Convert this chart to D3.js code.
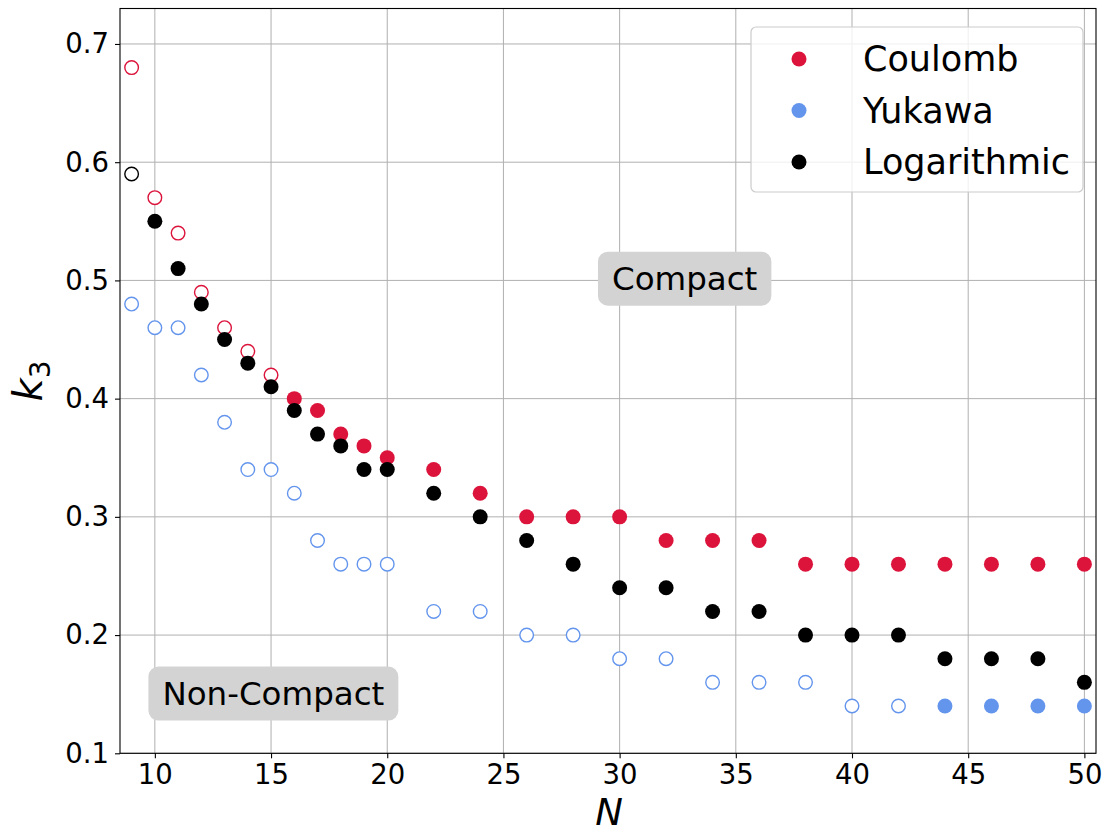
<!DOCTYPE html>
<html>
<head>
<meta charset="utf-8">
<script src="https://cdn.jsdelivr.net/npm/d3@7"></script>
<style>
  html, body { margin: 0; padding: 0; background: #fff; }
  svg { display: block; font-family: "DejaVu Sans", sans-serif; }
</style>
</head>
<body>
<svg id="chart" width="1110" height="833"></svg>
<script>
// Critical packing fraction k3 versus particle number N for three interactions.
// Hollow markers: non-compact states; filled markers: compact states.
const coulombN      = [9, 10, 11, 12, 13, 14, 15, 16, 17, 18, 19, 20, 22, 24, 26, 28, 30, 32, 34, 36, 38, 40, 42, 44, 46, 48, 50];
const coulombK      = [0.68, 0.57, 0.54, 0.49, 0.46, 0.44, 0.42, 0.40, 0.39, 0.37, 0.36, 0.35, 0.34, 0.32, 0.30, 0.30, 0.30, 0.28, 0.28, 0.28, 0.26, 0.26, 0.26, 0.26, 0.26, 0.26, 0.26];
const coulombFilled = [0, 0, 0, 0, 0, 0, 0, 1, 1, 1, 1, 1, 1, 1, 1, 1, 1, 1, 1, 1, 1, 1, 1, 1, 1, 1, 1];

const yukawaN       = [9, 10, 11, 12, 13, 14, 15, 16, 17, 18, 19, 20, 22, 24, 26, 28, 30, 32, 34, 36, 38, 40, 42, 44, 46, 48, 50];
const yukawaK       = [0.48, 0.46, 0.46, 0.42, 0.38, 0.34, 0.34, 0.32, 0.28, 0.26, 0.26, 0.26, 0.22, 0.22, 0.20, 0.20, 0.18, 0.18, 0.16, 0.16, 0.16, 0.14, 0.14, 0.14, 0.14, 0.14, 0.14];
const yukawaFilled  = [0, 0, 0, 0, 0, 0, 0, 0, 0, 0, 0, 0, 0, 0, 0, 0, 0, 0, 0, 0, 0, 0, 0, 1, 1, 1, 1];

const logN          = [9, 10, 11, 12, 13, 14, 15, 16, 17, 18, 19, 20, 22, 24, 26, 28, 30, 32, 34, 36, 38, 40, 42, 44, 46, 48, 50];
const logK          = [0.59, 0.55, 0.51, 0.48, 0.45, 0.43, 0.41, 0.39, 0.37, 0.36, 0.34, 0.34, 0.32, 0.30, 0.28, 0.26, 0.24, 0.24, 0.22, 0.22, 0.20, 0.20, 0.20, 0.18, 0.18, 0.18, 0.16];
const logFilled     = [0, 1, 1, 1, 1, 1, 1, 1, 1, 1, 1, 1, 1, 1, 1, 1, 1, 1, 1, 1, 1, 1, 1, 1, 1, 1, 1];

const seriesNames   = ["Coulomb", "Yukawa", "Logarithmic"];
const seriesColors  = ["#dc143c", "#6495ed", "#000000"];

const xTicks = [10, 15, 20, 25, 30, 35, 40, 45, 50];
const yTicks = [0.1, 0.2, 0.3, 0.4, 0.5, 0.6, 0.7];

const regionLabels = [
  { text: "Compact", n: 32.8, k: 0.5015 },
  { text: "Non-Compact", n: 15.1, k: 0.1505 }
];

const series = [
  { name: seriesNames[0], color: seriesColors[0], n: coulombN, k: coulombK, f: coulombFilled },
  { name: seriesNames[1], color: seriesColors[1], n: yukawaN,  k: yukawaK,  f: yukawaFilled },
  { name: seriesNames[2], color: seriesColors[2], n: logN,     k: logK,     f: logFilled }
];

const svg = d3.select("#chart");
const m = { left: 120, top: 8.5, right: 1096, bottom: 753.3 };

const x = d3.scaleLinear().domain([8.5, 50.5]).range([m.left, m.right]);
const y = d3.scaleLinear().domain([0.1, 0.73]).range([m.bottom, m.top]);

// grid
const grid = svg.append("g");
grid.selectAll("line.gx").data(xTicks).enter().append("line")
  .attr("x1", d => x(d)).attr("x2", d => x(d))
  .attr("y1", m.top).attr("y2", m.bottom)
  .attr("stroke", "#b0b0b0").attr("stroke-width", 1);
grid.selectAll("line.gy").data(yTicks).enter().append("line")
  .attr("x1", m.left).attr("x2", m.right)
  .attr("y1", d => y(d)).attr("y2", d => y(d))
  .attr("stroke", "#b0b0b0").attr("stroke-width", 1);

// region annotations
regionLabels.forEach(r => {
  const g = svg.append("g");
  const t = g.append("text")
    .attr("x", x(r.n)).attr("y", y(r.k))
    .attr("text-anchor", "middle").attr("dominant-baseline", "central")
    .attr("font-size", 32.5).attr("fill", "#000").text(r.text);
  const bb = t.node().getBBox();
  const padX = 14;
  g.insert("rect", "text")
    .attr("x", bb.x - padX).attr("y", y(r.k) - 27)
    .attr("width", bb.width + 2 * padX).attr("height", 54)
    .attr("rx", 10).attr("ry", 10)
    .attr("fill", "#d3d3d3");
});

// markers
series.forEach(s => {
  const pts = s.n.map((n, i) => ({ n, k: s.k[i], filled: s.f[i] === 1 }));
  svg.append("g").selectAll("circle").data(pts).enter().append("circle")
    .attr("cx", d => x(d.n)).attr("cy", d => y(d.k))
    .attr("r", d => d.filled ? 7.5 : 6.8)
    .attr("fill", d => d.filled ? s.color : "#fff")
    .attr("stroke", s.color)
    .attr("stroke-width", d => d.filled ? 0 : 1.4);
});

// axes
const xAxis = d3.axisBottom(x).tickValues(xTicks).tickSize(5).tickPadding(6).tickFormat(d3.format("d"));
const yAxis = d3.axisLeft(y).tickValues(yTicks).tickSize(5).tickPadding(6).tickFormat(d3.format(".1f"));

const gx = svg.append("g").attr("transform", `translate(0,${m.bottom})`).call(xAxis);
const gy = svg.append("g").attr("transform", `translate(${m.left},0)`).call(yAxis);
[gx, gy].forEach(g => {
  g.select(".domain").remove();
  g.selectAll(".tick line").attr("stroke", "#000").attr("stroke-width", 1.1);
  g.selectAll(".tick text").attr("font-size", 27.5).attr("fill", "#000")
    .attr("font-family", "DejaVu Sans, sans-serif");
});

// frame
svg.append("rect")
  .attr("x", m.left).attr("y", m.top)
  .attr("width", m.right - m.left).attr("height", m.bottom - m.top)
  .attr("fill", "none").attr("stroke", "#000").attr("stroke-width", 1.1);

// axis titles
svg.append("text")
  .attr("x", x(29.55)).attr("y", 825)
  .attr("text-anchor", "middle")
  .attr("font-size", 37).attr("font-style", "italic").text("N");

const yl = svg.append("text")
  .attr("transform", `translate(42,${(m.top + m.bottom) / 2}) rotate(-90)`)
  .attr("text-anchor", "middle")
  .attr("font-size", 40).attr("font-style", "italic");
yl.append("tspan").text("k");
yl.append("tspan").attr("font-style", "normal").attr("font-size", 28).attr("dy", 8).text("3");

// legend
const lg = svg.append("g");
lg.append("rect")
  .attr("x", 751).attr("y", 27).attr("width", 332).attr("height", 165)
  .attr("rx", 5).attr("ry", 5)
  .attr("fill", "rgba(255,255,255,0.8)").attr("stroke", "#cccccc").attr("stroke-width", 1.2);
series.forEach((s, i) => {
  const cy = 59 + i * 51.5;
  lg.append("circle").attr("cx", 799).attr("cy", cy).attr("r", 7.5).attr("fill", s.color);
  lg.append("text").attr("x", 863).attr("y", cy).attr("dominant-baseline", "central")
    .attr("font-size", 35).attr("fill", "#000").text(s.name);
});
</script>
</body>
</html>
